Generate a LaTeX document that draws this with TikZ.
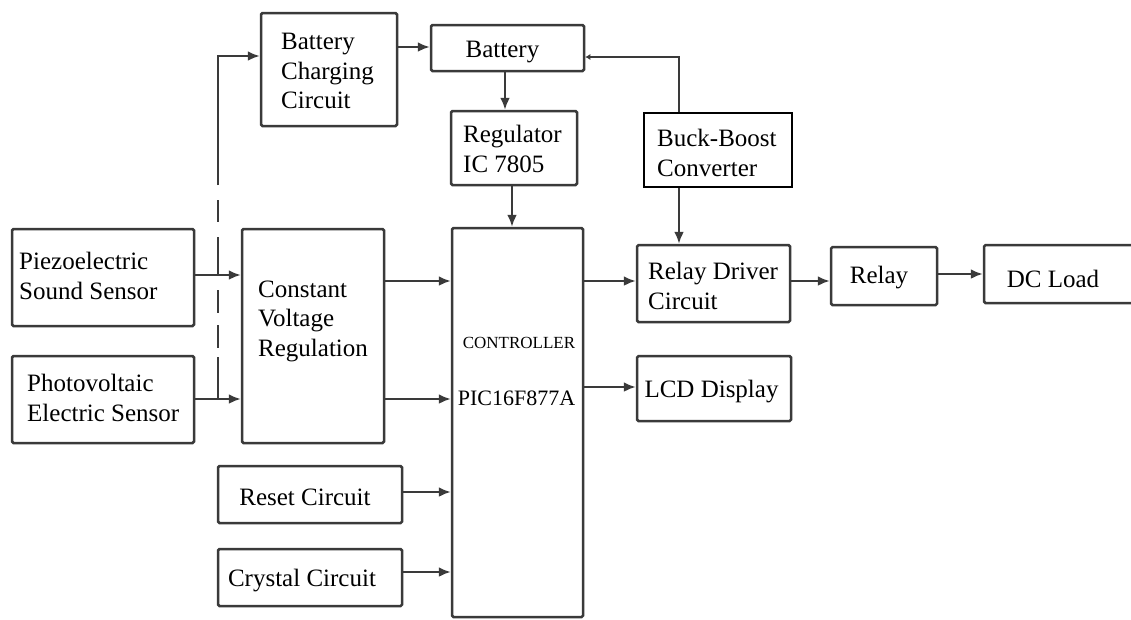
\documentclass[tikz,border=0pt]{standalone}
\usepackage{fontspec}
\setmainfont{Liberation Serif}
\usetikzlibrary{arrows.meta}
\definecolor{ln}{HTML}{3A3A3A}
\tikzset{
  box/.style={draw=ln, line width=2.5pt, rounded corners=1.5pt, minimum width=#1, inner sep=0pt},
  thickbox/.style={draw=black, line width=2.9pt, inner sep=0pt},
  txt/.style={font=\fontsize{25}{29.5}\selectfont, align=left, inner sep=0pt, text=black},
  ctxt/.style={font=\fontsize{25}{29.5}\selectfont, align=center, inner sep=0pt, text=black},
  conn/.style={draw=ln, line width=2.5pt},
  arr/.style={conn, -{Latex[length=12pt,width=10pt]}},
  smallarr/.style={conn, -{Latex[length=5pt,width=6pt]}},
}
\begin{document}
\begin{tikzpicture}[x=1pt,y=-1pt]
\clip (0,0) rectangle (1131,619);
\fill[white] (0,0) rectangle (1131,619);

% boxes
\node[box=136pt, minimum height=113pt] (bcc) at (329,69.5) {};
\node[box=153pt, minimum height=46pt] (bat) at (507.5,48) {};
\node[box=126pt, minimum height=74pt] (reg) at (514,148) {};
\node[thickbox, minimum width=148pt, minimum height=74pt] (bb) at (718,150) {};
\node[box=182pt, minimum height=97pt] (piezo) at (103,277.5) {};
\node[box=182pt, minimum height=87pt] (photo) at (103,399.5) {};
\node[box=142pt, minimum height=214pt] (cvr) at (313,336) {};
\node[box=131pt, minimum height=389pt] (ctrl) at (517.5,422.5) {};
\node[box=184pt, minimum height=57pt] (reset) at (310,494.5) {};
\node[box=184pt, minimum height=57pt] (crys) at (310,577.5) {};
\node[box=153pt, minimum height=77pt] (rdc) at (713.5,283.5) {};
\node[box=106pt, minimum height=58pt] (relay) at (884,276) {};
\node[box=160pt, minimum height=58pt] (dcl) at (1064,274) {};
\node[box=154pt, minimum height=65pt] (lcd) at (714,388.5) {};

% texts
\node[txt, anchor=west] (tbcc) at (281,71) {Battery\\Charging\\Circuit};
\node[ctxt] (tbat) at (502.5,52) {Battery};
\node[txt, anchor=west] (treg) at (463,149) {Regulator\\IC 7805};
\node[txt, anchor=west] (tbb) at (657,153) {Buck-Boost\\Converter};
\node[txt, anchor=west] (tpiezo) at (19,276) {Piezoelectric\\Sound Sensor};
\node[txt, anchor=west] (tphoto) at (27,398) {Photovoltaic\\Electric Sensor};
\node[txt, anchor=west] (tcvr) at (258,321) {Constant\\Voltage\\Regulation};
\node[txt, anchor=west] (trdc) at (648,286) {Relay Driver\\Circuit};
\node[ctxt] (trelay) at (879,278) {Relay};
\node[ctxt] (tdcl) at (1053,279) {DC Load};
\node[ctxt] (tlcd) at (711.5,392) {LCD Display};
\node[ctxt] (treset) at (305,497) {Reset Circuit};
\node[ctxt] (tcrys) at (302,581) {Crystal Circuit};
\node[ctxt, font=\fontsize{17}{20}\selectfont] (tctrl) at (519,343) {CONTROLLER};
\node[ctxt, font=\fontsize{22}{26}\selectfont] (tpic) at (516.5,398) {PIC16F877A};

% level coordinates
\coordinate (yBCC) at (0,56);
\coordinate (yBat) at (0,47);
\coordinate (yBB) at (0,57);
\coordinate (yP) at (0,275);
\coordinate (yV) at (0,399);
\coordinate (yC1) at (0,281);
\coordinate (yRD) at (0,281);
\coordinate (yDC) at (0,274);
\coordinate (yLCD) at (0,387);
\coordinate (yR) at (0,492);
\coordinate (yX) at (0,572);
\coordinate (xBR) at (505,0);
\coordinate (xRC) at (512,0);
\coordinate (xBBl) at (679,0);
\coordinate (xD) at (218,0);

% feed line to battery charging circuit (solid part, then dashed)
\coordinate (dTop) at (218,185);
\draw[arr] (dTop) -- (xD |- yBCC) -- (bcc.west |- yBCC);
\draw[conn] (218,200) -- (218,222);
\draw[conn] (218,237) -- (218,275);
\draw[conn] (218,290) -- (218,313);
\draw[conn] (218,325) -- (218,348);
\draw[conn] (218,357) -- (218,399);

% sensors to CVR
\draw[arr] (piezo.east |- yP) -- (cvr.west |- yP);
\draw[arr] (photo.east |- yV) -- (cvr.west |- yV);

% CVR to controller
\draw[arr] (cvr.east |- yC1) -- (ctrl.west |- yC1);
\draw[arr] (cvr.east |- yV) -- (ctrl.west |- yV);

% reset / crystal
\draw[arr] (reset.east |- yR) -- (ctrl.west |- yR);
\draw[arr] (crys.east |- yX) -- (ctrl.west |- yX);

% battery chain
\draw[arr] (bcc.east |- yBat) -- (bat.west |- yBat);
\draw[arr] (xBR |- bat.south) -- (xBR |- reg.north);
\draw[arr] (xRC |- reg.south) -- (xRC |- ctrl.north);
\draw[smallarr] (xBBl |- bb.north) -- (xBBl |- yBB) -- (bat.east |- yBB);
\draw[arr] (xBBl |- bb.south) -- (xBBl |- rdc.north);

% outputs
\draw[arr] (ctrl.east |- yRD) -- (rdc.west |- yRD);
\draw[arr] (rdc.east |- yRD) -- (relay.west |- yRD);
\draw[arr] (relay.east |- yDC) -- (dcl.west |- yDC);
\draw[arr] (ctrl.east |- yLCD) -- (lcd.west |- yLCD);
\end{tikzpicture}
\end{document}
